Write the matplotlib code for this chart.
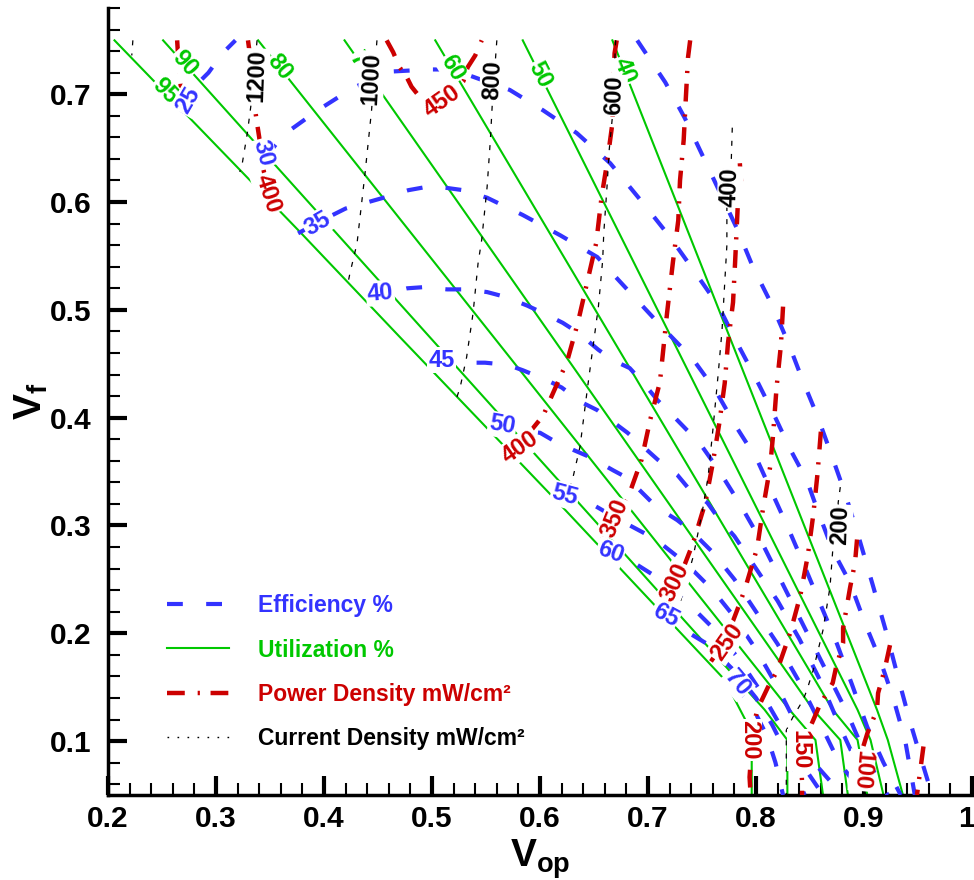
import numpy as np
import matplotlib
matplotlib.use("Agg")
import matplotlib.pyplot as plt
import matplotlib.transforms as mtransforms
from matplotlib.lines import Line2D
from matplotlib.ticker import MultipleLocator, FuncFormatter

plt.rcParams['font.family'] = ['Liberation Sans', 'DejaVu Sans']
plt.rcParams['mathtext.fontset'] = 'custom'
plt.rcParams['mathtext.rm'] = 'Liberation Sans:bold'
plt.rcParams['mathtext.bf'] = 'Liberation Sans:bold'
plt.rcParams['mathtext.it'] = 'Liberation Sans:bold'

nan = np.nan

# Utilization contours (%)
util_levels = [95, 90, 80, 70, 60, 50, 40]
util_x = [
    [0.206, 0.378, 0.470, 0.619, 0.769, 0.776, 0.791, 0.796, 0.796],
    [0.251, 0.808, 0.829, 0.829],
    [0.339, 0.831, 0.855, 0.862],
    [0.419, 0.853, 0.878, 0.885],
    [0.503, 0.871, 0.894, 0.903],
    [0.584, 0.894, 0.906, 0.918],
    [0.667, 0.912, 0.922, 0.936],
]
util_y = [
    [0.750, 0.572, 0.475, 0.319, 0.159, 0.147, 0.118, 0.082, 0.050],
    [0.750, 0.129, 0.101, 0.050],
    [0.750, 0.129, 0.101, 0.050],
    [0.750, 0.129, 0.101, 0.050],
    [0.750, 0.129, 0.101, 0.050],
    [0.750, 0.129, 0.101, 0.050],
    [0.750, 0.129, 0.101, 0.050],
]

# Efficiency contours (%)
eff_levels = [25, 30, 35, 40, 45, 50, 55, 60, 65, 70]
eff_x = [
    [0.268, 0.285, 0.293, 0.306, 0.318, nan, 0.690, 0.716, 0.734, 0.751, 0.767, 0.783,
     0.797, 0.815, 0.830, 0.843, 0.857, 0.870, 0.883, 0.896, 0.908, 0.920, 0.931, 0.942, 0.953, 0.963],
    [0.340, 0.345, 0.362, 0.394, 0.427, 0.461, 0.498, 0.514, 0.533, 0.572, 0.603, 0.634, 0.665,
     0.697, 0.720, 0.742, 0.765, 0.781, 0.799, 0.816, 0.832, 0.847, 0.857, 0.871, 0.887, 0.901,
     0.915, 0.927, 0.938, 0.947],
    [0.376, 0.396, 0.420, 0.455, 0.478, 0.500, 0.529, 0.551, 0.584, 0.619, 0.653, 0.688, 0.713,
     0.741, 0.762, 0.782, 0.801, 0.815, 0.830, 0.845, 0.860, 0.875, 0.889, 0.903, 0.918, 0.934],
    [0.445, 0.452, 0.477, 0.491, 0.514, 0.531, 0.551, 0.568, 0.588, 0.603, 0.621, 0.635, 0.654,
     0.668, 0.683, 0.695, 0.709, 0.720, 0.736, 0.746, 0.765, 0.785, 0.805, 0.825, 0.845, 0.865,
     0.885, 0.900, 0.915, 0.922],
    [0.505, 0.532, 0.549, 0.570, 0.584, 0.606, 0.620, 0.639, 0.653, 0.669, 0.681, 0.699, 0.709,
     0.727, 0.737, 0.755, 0.765, 0.780, 0.800, 0.820, 0.840, 0.860, 0.877, 0.893, 0.912],
    [0.562, 0.600, 0.612, 0.631, 0.646, 0.668, 0.681, 0.699, 0.708, 0.727, 0.741, 0.760, 0.780,
     0.800, 0.820, 0.840, 0.860, 0.877, 0.900],
    [0.618, 0.646, 0.672, 0.700, 0.711, 0.735, 0.760, 0.780, 0.800, 0.820, 0.840, 0.858, 0.880],
    [0.657, 0.679, 0.686, 0.705, 0.716, 0.740, 0.765, 0.785, 0.805, 0.825, 0.845, 0.862],
    [0.708, 0.730, 0.755, 0.780, 0.800, 0.815, 0.830, 0.845],
    [0.778, 0.790, 0.800, 0.810, 0.818, 0.825],
]
eff_y = [
    [0.683, 0.712, 0.720, 0.738, 0.750, nan, 0.750, 0.711, 0.678, 0.642, 0.608, 0.574,
     0.540, 0.504, 0.469, 0.435, 0.401, 0.365, 0.328, 0.286, 0.245, 0.203, 0.161, 0.120, 0.083, 0.050],
    [0.606, 0.640, 0.662, 0.685, 0.706, 0.721, 0.723, 0.723, 0.718, 0.704, 0.685, 0.664, 0.636,
     0.597, 0.568, 0.537, 0.504, 0.472, 0.438, 0.404, 0.370, 0.342, 0.314, 0.277, 0.247, 0.209,
     0.175, 0.140, 0.101, 0.050],
    [0.571, 0.582, 0.594, 0.604, 0.611, 0.615, 0.611, 0.604, 0.588, 0.569, 0.549, 0.511, 0.484,
     0.455, 0.426, 0.391, 0.361, 0.330, 0.297, 0.262, 0.226, 0.190, 0.152, 0.113, 0.080, 0.050],
    [0.505, 0.514, 0.520, 0.521, 0.519, 0.519, 0.5165, 0.512, 0.504, 0.497, 0.488, 0.479, 0.463,
     0.453, 0.446, 0.433, 0.416, 0.405, 0.3885, 0.379, 0.352, 0.320, 0.285, 0.245, 0.205, 0.165,
     0.125, 0.090, 0.060, 0.050],
    [0.450, 0.451, 0.451, 0.449, 0.444, 0.435, 0.428, 0.414, 0.407, 0.395, 0.386, 0.370, 0.361,
     0.347, 0.335, 0.321, 0.307, 0.290, 0.260, 0.230, 0.195, 0.155, 0.115, 0.080, 0.050],
    [0.390, 0.386, 0.379, 0.370, 0.3635, 0.351, 0.344, 0.326, 0.317, 0.305, 0.294, 0.275, 0.250,
     0.220, 0.190, 0.155, 0.115, 0.080, 0.050],
    [0.330, 0.321, 0.306, 0.291, 0.284, 0.265, 0.240, 0.215, 0.185, 0.150, 0.110, 0.075, 0.050],
    [0.275, 0.271, 0.266, 0.254, 0.247, 0.225, 0.200, 0.175, 0.145, 0.110, 0.075, 0.050],
    [0.214, 0.205, 0.190, 0.165, 0.140, 0.115, 0.085, 0.050],
    [0.152, 0.140, 0.125, 0.105, 0.080, 0.050],
]

# Power density contours (mW/cm2)
power_levels = [350, 400, 450, 400, 350, 300, 250, 200, 150, 100, 50]
power_x = [
    [0.264, 0.265, 0.267, 0.2685, 0.270],
    [0.3296, 0.3315, 0.334, 0.338, 0.340, 0.3435, 0.347, 0.351],
    [0.458, 0.464, 0.470, 0.477, 0.481, 0.489, 0.496, 0.507, 0.521, 0.529, 0.533, 0.540, 0.546],
    [0.671, 0.669, 0.667, 0.662, 0.657, 0.652, 0.6435, 0.635, 0.625, 0.609, 0.603, 0.581, 0.568],
    [0.739, 0.737, 0.735, 0.733, 0.7296, 0.728, 0.723, 0.7176, 0.711, 0.702, 0.694, 0.6806, 0.6685, 0.655],
    [0.785, 0.786, 0.783, 0.7806, 0.7787, 0.774, 0.771, 0.766, 0.760, 0.753, 0.7417, 0.727, 0.713],
    [0.825, 0.823, 0.819, 0.8157, 0.813, 0.8065, 0.801, 0.790, 0.785, 0.772, 0.757],
    [0.860, 0.857, 0.853, 0.848, 0.841, 0.8315, 0.819, 0.811, 0.801, 0.797, 0.794, 0.795],
    [0.8935, 0.8917, 0.887, 0.8806, 0.8806, 0.874, 0.871, 0.859, 0.853, 0.841, 0.8426, 0.8426],
    [0.924, 0.919, 0.913, 0.912, 0.903, 0.899, 0.898, 0.896],
    [0.955, 0.949],
]
power_y = [
    [0.750, 0.734, 0.711, 0.697, 0.684],
    [0.750, 0.736, 0.701, 0.673, 0.660, 0.632, 0.616, 0.599],
    [0.750, 0.739, 0.725, 0.715, 0.707, 0.697, 0.693, 0.694, 0.704, 0.712, 0.725, 0.736, 0.750],
    [0.750, 0.738, 0.673, 0.636, 0.605, 0.562, 0.525, 0.488, 0.452, 0.416, 0.402, 0.375, 0.369],
    [0.750, 0.734, 0.6965, 0.6575, 0.620, 0.583, 0.544, 0.497, 0.433, 0.398, 0.361, 0.3236, 0.307, 0.282],
    [0.636, 0.620, 0.595, 0.544, 0.507, 0.469, 0.432, 0.395, 0.358, 0.321, 0.2837, 0.246, 0.222],
    [0.503, 0.467, 0.428, 0.383, 0.354, 0.316, 0.279, 0.242, 0.228, 0.194, 0.172],
    [0.387, 0.349, 0.310, 0.2725, 0.235, 0.200, 0.164, 0.150, 0.129, 0.110, 0.0666, 0.050],
    [0.287, 0.266, 0.242, 0.205, 0.191, 0.168, 0.154, 0.1334, 0.1195, 0.092, 0.062, 0.050],
    [0.189, 0.166, 0.1445, 0.129, 0.107, 0.094, 0.073, 0.050],
    [0.095, 0.050],
]

# Current density contours
current_levels = [1400, 1200, 1000, 800, 600, 400, 200]
current_x = [
    [0.223, 0.222],
    [0.338, 0.333, 0.329, 0.324, 0.322],
    [0.449, 0.444, 0.438, 0.4306, 0.424, 0.422],
    [0.560, 0.556, 0.554, 0.551, 0.546, 0.5426, 0.538, 0.532, 0.526, 0.523],
    [0.670, 0.667, 0.664, 0.662, 0.659, 0.658, 0.654, 0.649, 0.644, 0.637, 0.6306, 0.623],
    [0.778, 0.777, 0.773, 0.773, 0.771, 0.7685, 0.765, 0.760, 0.7556, 0.750, 0.7417, 0.7296, 0.722],
    [0.878, 0.876, 0.878, 0.871, 0.8685, 0.862, 0.853, 0.847, 0.8435, 0.834, 0.828, 0.828],
]
current_y = [
    [0.750, 0.736],
    [0.750, 0.695, 0.664, 0.634, 0.628],
    [0.750, 0.685, 0.627, 0.562, 0.534, 0.524],
    [0.750, 0.695, 0.6575, 0.614, 0.565, 0.543, 0.497, 0.456, 0.428, 0.419],
    [0.750, 0.679, 0.648, 0.614, 0.571, 0.546, 0.5026, 0.4655, 0.428, 0.373, 0.345, 0.319],
    [0.669, 0.636, 0.614, 0.560, 0.525, 0.481, 0.441, 0.3885, 0.345, 0.3115, 0.2707, 0.228, 0.210],
    [0.3356, 0.3208, 0.302, 0.277, 0.243, 0.203, 0.166, 0.147, 0.138, 0.122, 0.110, 0.050],
]

# inline contour labels: (line index, x, y, rotation)
util_labels = [(0, 0.253, 0.703, -46), (1, 0.271, 0.729, -48), (2, 0.359, 0.725, -51),
               (3, 0.435, 0.727, -55), (4, 0.5185, 0.724, -59), (5, 0.600, 0.718, -63),
               (6, 0.678, 0.722, -68)]
eff_labels = [(0, 0.274, 0.6946, 60), (1, 0.3435, 0.6455, -75), (2, 0.394, 0.580, 30),
              (3, 0.452, 0.5156, 5), (4, 0.509, 0.4534, 0), (5, 0.565, 0.393, -10),
              (6, 0.623, 0.328, -15), (7, 0.665, 0.275, -20), (8, 0.716, 0.217, -28),
              (9, 0.7824, 0.1538, -50)]
power_labels = [(1, 0.348, 0.608, -72), (2, 0.509, 0.693, 35), (3, 0.5815, 0.3727, 35),
                (4, 0.669, 0.307, 68), (5, 0.725, 0.247, 65), (6, 0.773, 0.192, 55),
                (7, 0.794, 0.101, -90), (8, 0.8407, 0.0917, -90), (9, 0.898, 0.073, -95)]
current_labels = [(1, 0.338, 0.717, 88), (2, 0.444, 0.715, 87), (3, 0.556, 0.713, 87),
                  (4, 0.669, 0.699, 88), (5, 0.776, 0.614, 88), (6, 0.878, 0.300, 88)]

eff_color = '#3333ff'
util_color = '#00c800'
power_color = '#cc0000'
current_color = 'black'

eff_dash = (3.8, 5.6)
power_dash = (4.0, 2.9, 0.5, 2.4)
current_dash = (4.0, 6.5)

fig = plt.figure(figsize=(9.74, 8.8), dpi=100)
ax = fig.add_axes([0.1109, 0.0966, 0.8871, 0.8943])

for xs, ys in zip(util_x, util_y):
    ax.plot(xs, ys, color=util_color, lw=1.5, zorder=2)
for xs, ys in zip(eff_x, eff_y):
    ax.plot(xs, ys, color=eff_color, lw=3, dashes=eff_dash, zorder=3)
for xs, ys in zip(power_x, power_y):
    ax.plot(xs, ys, color=power_color, lw=3.2, dashes=power_dash, zorder=3.5)
for xs, ys in zip(current_x, current_y):
    ax.plot(xs, ys, color=current_color, lw=0.9, dashes=current_dash, zorder=4)


def put_labels(entries, levels, color):
    for i, x, y, rot in entries:
        ax.text(x, y, str(levels[i]), color=color, fontsize=17, fontweight='bold',
                rotation=rot, ha='center', va='center', rotation_mode='anchor', zorder=6,
                bbox=dict(boxstyle='square,pad=0.05', fc='white', ec='none'))


put_labels(util_labels, util_levels, util_color)
put_labels(eff_labels, eff_levels, eff_color)
put_labels(power_labels, power_levels, power_color)
put_labels(current_labels, current_levels, current_color)

ax.set_xlim(0.2, 1.0)
ax.set_ylim(0.05, 0.78)
ax.spines['top'].set_visible(False)
ax.spines['right'].set_visible(False)
for side in ('left', 'bottom'):
    ax.spines[side].set_linewidth(2.5)

ax.xaxis.set_major_locator(MultipleLocator(0.1))
ax.xaxis.set_minor_locator(MultipleLocator(0.02))
ax.yaxis.set_major_locator(MultipleLocator(0.1))
ax.yaxis.set_minor_locator(MultipleLocator(0.02))
fmt = FuncFormatter(lambda v, p: '%g' % round(v, 2))
ax.xaxis.set_major_formatter(fmt)
ax.yaxis.set_major_formatter(fmt)
ax.tick_params(which='major', direction='in', length=13.5, width=3, labelsize=21.5)
ax.tick_params(which='minor', direction='in', length=8.5, width=1.5)
ax.tick_params(axis='x', which='major', pad=7)
ax.tick_params(axis='y', which='major', pad=12)
for lab in ax.get_xticklabels() + ax.get_yticklabels():
    lab.set_fontweight('bold')

# keep the "1" at the right end of the x axis inside the canvas
fig.canvas.draw()
last = [t for t in ax.get_xticklabels() if t.get_text() == '1']
for t in last:
    t.set_transform(t.get_transform() + mtransforms.ScaledTranslation(-4 / 72, 0, fig.dpi_scale_trans))

ax.set_xlabel(r'$\mathbf{V_{op}}$', fontsize=28, labelpad=3)
ax.set_ylabel(r'$\mathbf{V_{f}}$', fontsize=28, labelpad=0)

handles = [
    Line2D([], [], color=eff_color, lw=3, dashes=eff_dash),
    Line2D([], [], color=util_color, lw=1.5),
    Line2D([], [], color=power_color, lw=3.2, dashes=power_dash),
    Line2D([], [], color=current_color, lw=1.0, dashes=(1.2, 6)),
]
labels = ['Efficiency %', 'Utilization %', 'Power Density mW/cm²', 'Current Density mW/cm²']
ax.legend(handles, labels, loc='lower left', bbox_to_anchor=(0.068, 0.057), frameon=False,
          borderpad=0, borderaxespad=0, handlelength=2.7, handletextpad=1.3,
          labelspacing=0.93, prop=dict(weight='bold', size=16.5),
          labelcolor=[eff_color, util_color, power_color, current_color])

fig.savefig('out.png', dpi=100)
